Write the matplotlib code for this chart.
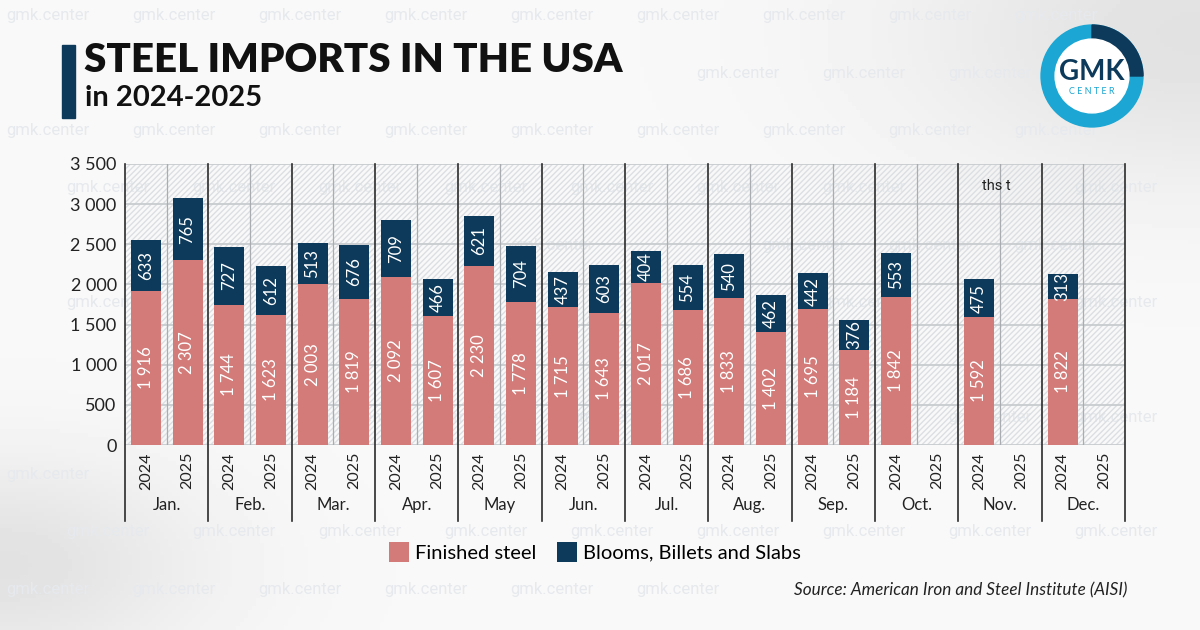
import numpy as np
import matplotlib
matplotlib.use("Agg")
import matplotlib.pyplot as plt
from matplotlib.patches import Rectangle, Wedge, Patch
from matplotlib.transforms import blended_transform_factory

plt.rcParams["font.family"] = ["Lato", "DejaVu Sans"]

months = ["Jan.", "Feb.", "Mar.", "Apr.", "May", "Jun.", "Jul.", "Aug.", "Sep.", "Oct.", "Nov.", "Dec."]
years = ["2024", "2025"]
finished_2024 = [1916, 1744, 2003, 2092, 2230, 1715, 2017, 1833, 1695, 1842, 1592, 1822]
blooms_2024 = [633, 727, 513, 709, 621, 437, 404, 540, 442, 553, 475, 313]
finished_2025 = [2307, 1623, 1819, 1607, 1778, 1643, 1686, 1402, 1184, None, None, None]
blooms_2025 = [765, 612, 676, 466, 704, 603, 554, 462, 376, None, None, None]
y_ticks = [0, 500, 1000, 1500, 2000, 2500, 3000, 3500]

PINK = "#d27b79"
NAVY = "#0d3a5a"
CYAN = "#1ba6d3"


def fmt(v):
    return f"{v:,}".replace(",", " ")


fig = plt.figure(figsize=(12, 6.3), dpi=100)
fig.patch.set_facecolor("#f3f4f5")

# background: soft grey gradient + faint watermarks
bg = fig.add_axes([0, 0, 1, 1], zorder=-10)
gx = np.linspace(0, 1, 300)
gy = np.linspace(0, 1, 160)
X, Y = np.meshgrid(gx, gy)
shade = 0.975 - 0.09 * np.exp(-((X - 0.0) ** 2 + (Y - 0.9) ** 2) / 0.03) \
    - 0.09 * np.exp(-((X - 1.0) ** 2 + (Y - 0.05) ** 2) / 0.06)
bg.imshow(shade, cmap="gray", vmin=0, vmax=1, extent=[0, 1, 0, 1], aspect="auto", origin="upper")
bg.set_xlim(0, 1)
bg.set_ylim(0, 1)
bg.axis("off")
marks = []
for i, yy in enumerate(np.arange(0.975, 0.0, -0.091)):
    off = 0.0 if i % 2 == 0 else 0.05
    for xx in np.arange(0.005 + off, 0.95, 0.105):
        marks.append(bg.text(xx, yy, "gmk.center", fontsize=12, color="#e6e9ed", ha="left",
                             va="center", family="Roboto"))

ax = fig.add_axes([125 / 1200, 1 - 445 / 630, 1000 / 1200, 281 / 630])
ax.patch.set_alpha(0)
ax.add_patch(Rectangle((0, 0), 1, 1, transform=ax.transAxes, facecolor="none",
                       edgecolor="#dcdfe2", hatch="//////", linewidth=0, zorder=0))

n = len(months)
x24 = np.arange(n) * 2
x25 = np.arange(n) * 2 + 1
w = 0.72

f25 = np.array([np.nan if v is None else v for v in finished_2025], dtype=float)
b25 = np.array([np.nan if v is None else v for v in blooms_2025], dtype=float)

ax.bar(x24, finished_2024, width=w, color=PINK, zorder=3)
ax.bar(x24, blooms_2024, width=w, bottom=finished_2024, color=NAVY, zorder=3)
ax.bar(x25, f25, width=w, color=PINK, zorder=3)
ax.bar(x25, b25, width=w, bottom=f25, color=NAVY, zorder=3)

lab_kw = dict(rotation=90, ha="center", va="center", color="white", fontsize=12, zorder=4)
for xs, fin, blo in [(x24, finished_2024, blooms_2024), (x25, finished_2025, blooms_2025)]:
    for x, f, b in zip(xs, fin, blo):
        if f is None:
            continue
        ax.text(x, f / 2, fmt(f), **lab_kw)
        ax.text(x, f + b / 2, fmt(b), **lab_kw)

ax.set_xlim(-0.5, 2 * n - 0.5)
ax.set_ylim(0, 3500)
ax.set_yticks(y_ticks)
ax.set_yticklabels([fmt(v) for v in y_ticks], fontsize=13, color="#222222")
ax.tick_params(axis="y", length=0, pad=6)
ax.set_xticks([])
for s in ["top", "right", "bottom", "left"]:
    ax.spines[s].set_visible(False)

for v in y_ticks:
    ax.axhline(v, color="#c9cccf", linewidth=1.3, zorder=1)

trans = blended_transform_factory(ax.transData, ax.transAxes)
# thin lines between years
for m in range(n):
    ax.plot([2 * m + 0.5] * 2, [0, 1], transform=trans, color="#a9adb1", linewidth=0.9, zorder=1)
# month separators reaching down into the label band
for m in range(n + 1):
    ax.plot([2 * m - 0.5] * 2, [-0.27, 1], transform=trans, color="#2b2b2b", linewidth=1.2,
            zorder=2, clip_on=False)

for m in range(n):
    ax.text(2 * m, -0.025, years[0], transform=trans, rotation=90, ha="center", va="top",
            fontsize=11.5, color="#222222")
    ax.text(2 * m + 1, -0.025, years[1], transform=trans, rotation=90, ha="center", va="top",
            fontsize=11.5, color="#222222")
    ax.text(2 * m + 0.5, -0.215, months[m], transform=trans, ha="center", va="center",
            fontsize=12, color="#222222")

ax.text(20.4, 3230, "ths t", ha="center", va="center", fontsize=10.5, color="#222222",
        family="Roboto", zorder=4)

# title block
fig.add_artist(Rectangle((62 / 1200, 1 - 118 / 630), 13 / 1200, 73 / 630,
                         transform=fig.transFigure, color=NAVY))
fig.text(84 / 1200, 1 - 61 / 630, "STEEL IMPORTS IN THE USA", fontsize=29, fontweight="heavy",
         color="#111111", va="center", ha="left")
fig.text(85 / 1200, 1 - 98 / 630, "in 2024-2025", fontsize=21, fontweight="bold",
         color="#111111", va="center", ha="left")

# logo
lg = fig.add_axes([1040 / 1200, 1 - 128 / 630, 104 / 1200, 104 / 630])
lg.set_xlim(-1, 1)
lg.set_ylim(-1, 1)
lg.set_aspect("equal")
lg.axis("off")
lg.add_patch(Wedge((0, 0), 0.98, 0, 360, width=0.27, color=CYAN))
lg.add_patch(Wedge((0, 0), 0.98, 0, 90, width=0.27, color=NAVY))
lg.add_patch(plt.Circle((0, 0), 0.71, color="white"))
lg.text(0, 0.08, "GMK", ha="center", va="center", fontsize=20, fontweight="bold", color=NAVY)
lg.text(0, -0.3, "C E N T E R", ha="center", va="center", fontsize=6.5, color=CYAN)

handles = [Patch(facecolor=PINK, label="Finished steel"),
           Patch(facecolor=NAVY, label="Blooms, Billets and Slabs")]
fig.legend(handles=handles, loc="center", bbox_to_anchor=(595 / 1200, 1 - 552 / 630), ncol=2,
           frameon=False, fontsize=14.5, handlelength=1.0, handleheight=1.1, handletextpad=0.3,
           columnspacing=1.0)

fig.text(1127 / 1200, 1 - 590 / 630, "Source: American Iron and Steel Institute (AISI)",
         fontsize=12.3, style="italic", ha="right", va="center", color="#222222")

# drop watermarks that would sit under real text or run off the edge
fig.canvas.draw()
rend = fig.canvas.get_renderer()
real = [t for t in fig.findobj(matplotlib.text.Text)
        if t not in marks and t.get_text() and t.get_visible()]
boxes = [t.get_window_extent(rend).expanded(1.05, 1.1) for t in real]
W, H = fig.bbox.width, fig.bbox.height
for t in marks:
    bb = t.get_window_extent(rend)
    if bb.x0 < 0 or bb.x1 > W or bb.y0 < 0 or bb.y1 > H or any(bb.overlaps(b) for b in boxes):
        t.remove()

fig.savefig("out.png", dpi=100, facecolor=fig.get_facecolor())
